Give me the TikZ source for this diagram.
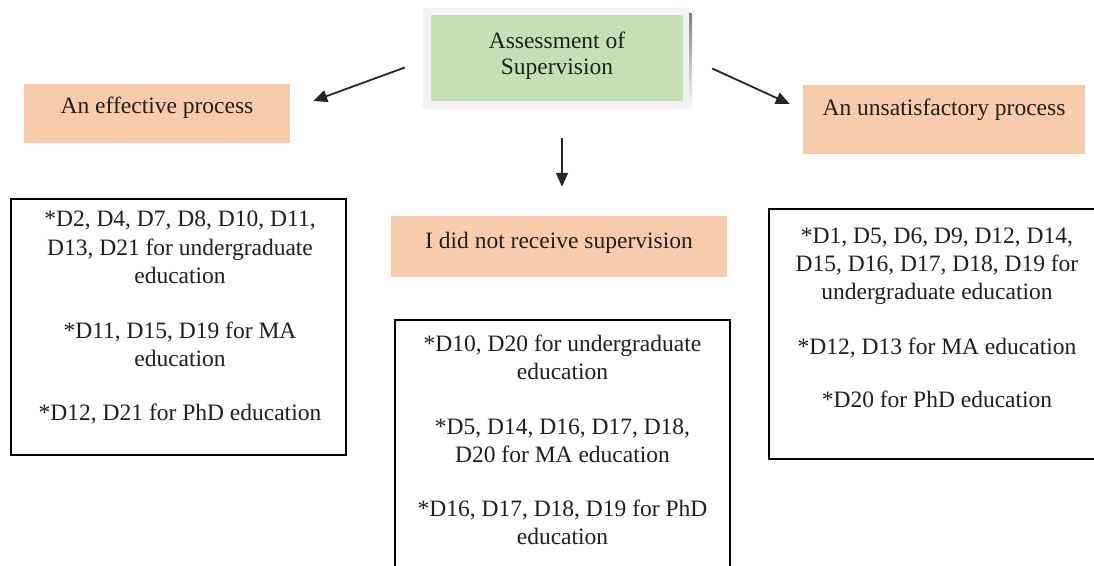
\documentclass[tikz,border=0pt]{standalone}
\usepackage{fontspec}
\setmainfont{Liberation Serif}
\usetikzlibrary{arrows.meta,calc}
\definecolor{peach}{HTML}{F8CBAD}
\definecolor{sage}{HTML}{C5E0B4}
\definecolor{frame}{HTML}{F2F2F2}
\definecolor{shade}{HTML}{A9BDD6}
\tikzset{
  box/.style={draw=black, line width=1.3pt, inner sep=0pt},
  peachbox/.style={fill=peach, draw=none, inner sep=0pt},
  txt/.style={font=\fontsize{23.5}{28}\selectfont, align=center, inner sep=0pt, text=black!88},
  arr/.style={line width=1.8pt, black!85, -{Triangle[length=14pt,width=12pt]}},
}
\begin{document}
\begin{tikzpicture}[x=1pt,y=-1pt]
\useasboundingbox (0,0) rectangle (1094,565);
\clip (0,0) rectangle (1094,565);
% top box
\fill[shade] (427,13) rectangle (692,113);
\node[fill=frame, draw=none, inner sep=0pt, minimum width=266pt, minimum height=101pt] (top) at (556,58.5) {};
\node[fill=sage, draw=none, inner sep=0pt, minimum width=252pt, minimum height=86pt] (topin) at (557,58) {};
\node[txt, anchor=north] (toptxt) at (557,32) {Assessment of\\[-2pt]Supervision};
% orange boxes
\node[peachbox, minimum width=266pt, minimum height=59pt] (eff) at (157,113.5) {};
\node[txt, anchor=north] (efftxt) at (157,97) {An effective process};
\node[peachbox, minimum width=282pt, minimum height=69pt] (uns) at (944,119.5) {};
\node[txt, anchor=north] (unstxt) at (944,99) {An unsatisfactory process};
\node[peachbox, minimum width=336pt, minimum height=61pt] (none) at (559,246.5) {};
\node[txt, anchor=north] (nonetxt) at (559,232) {I did not receive supervision};
% white boxes
\node[box, minimum width=335pt, minimum height=256pt] (effbox) at (178.5,327) {};
\node[txt, anchor=north] (effboxtxt) at (180,211) {*D2, D4, D7, D8, D10, D11,\\[1pt]D13, D21 for undergraduate\\education\\[27pt]*D11, D15, D19 for MA\\education\\[26pt]*D12, D21 for PhD education};
\node[box, minimum width=335pt, minimum height=260pt] (nonebox) at (562.5,450) {};
\node[txt, anchor=north] (noneboxtxt) at (562.5,335) {*D10, D20 for undergraduate\\education\\[27pt]*D5, D14, D16, D17, D18,\\D20 for MA education\\[26pt]*D16, D17, D18, D19 for PhD\\education};
\node[box, minimum width=335pt, minimum height=250pt] (unsbox) at (936.5,334) {};
\node[txt, anchor=north] (unsboxtxt) at (937,228) {*D1, D5, D6, D9, D12, D14,\\D15, D16, D17, D18, D19 for\\undergraduate education\\[27pt]*D12, D13 for MA education\\[25pt]*D20 for PhD education};
% arrows
\draw[arr] ([shift={(-18,9)}]top.west) -- ([shift={(23,-12.5)}]eff.east);
\draw[arr] ([shift={(23,10)}]top.east) -- ([shift={(-13,-15.5)}]uns.west);
\draw[arr] ([shift={(6,29)}]top.south) -- ([shift={(3,-29)}]none.north);
\end{tikzpicture}
\end{document}
